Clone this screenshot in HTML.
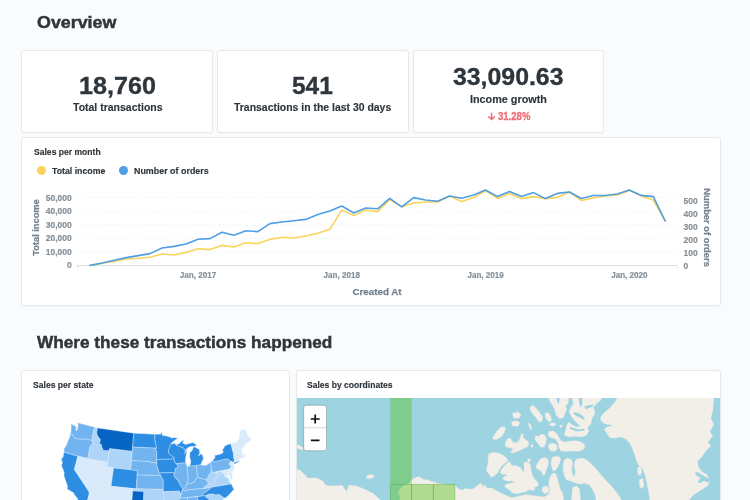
<!DOCTYPE html><html lang="en"><head><meta charset="utf-8"><title>Dashboard</title><style>
html,body{margin:0;padding:0}
body{width:750px;height:500px;overflow:hidden;background:#f9fbfc;position:relative;font-family:"Liberation Sans",sans-serif;}
.card{position:absolute;background:#fff;border:1px solid #e6e9ec;border-radius:3px;box-sizing:border-box;box-shadow:0 0.5px 1.5px rgba(0,0,0,0.03)}
.tx{position:absolute;transform-origin:0 0;white-space:nowrap;line-height:1;margin:0;padding:0;font-family:"Liberation Sans",sans-serif;}
svg{position:absolute;left:0;top:0}
.tick{font:700 8.5px "Liberation Sans",sans-serif;fill:#86919a;stroke:#86919a;stroke-width:0.2px}
.axt{font:700 9.6px "Liberation Sans",sans-serif;fill:#74838f;stroke:#74838f;stroke-width:0.25px}
.dot{position:absolute;width:9px;height:9px;border-radius:50%}
</style></head><body>
<div class="card" style="left:21px;top:50px;width:192px;height:83px"></div>
<div class="card" style="left:217px;top:50px;width:192px;height:83px"></div>
<div class="card" style="left:413px;top:50px;width:191px;height:83px"></div>
<div class="card" style="left:21px;top:137px;width:700px;height:169px"></div>
<div class="card" style="left:21px;top:370px;width:269px;height:140px"></div>
<div class="card" style="left:296px;top:370px;width:425px;height:140px;overflow:hidden"></div>
<div class="dot" style="left:36.5px;top:166.2px;background:#f9d45c"></div>
<div class="dot" style="left:119.2px;top:166.2px;background:#509ee3"></div>
<svg width="750" height="500" viewBox="0 0 750 500">
<line x1="78" x2="677" y1="251.9" y2="251.9" stroke="#eff1f3" stroke-width="0.8" stroke-dasharray="2.2,2.2"/>
<line x1="78" x2="677" y1="238.3" y2="238.3" stroke="#eff1f3" stroke-width="0.8" stroke-dasharray="2.2,2.2"/>
<line x1="78" x2="677" y1="224.8" y2="224.8" stroke="#eff1f3" stroke-width="0.8" stroke-dasharray="2.2,2.2"/>
<line x1="78" x2="677" y1="211.2" y2="211.2" stroke="#eff1f3" stroke-width="0.8" stroke-dasharray="2.2,2.2"/>
<line x1="78" x2="677" y1="197.6" y2="197.6" stroke="#eff1f3" stroke-width="0.8" stroke-dasharray="2.2,2.2"/>
<path d="M77.5 268 V265.5 H677.3 V268" fill="none" stroke="#d7dbde" stroke-width="0.9"/>
<polyline points="90.2,265.4 102.2,263.2 114.2,261.4 126.1,259.0 138.1,258.2 150.1,257.2 162.1,254.0 174.1,255.0 186.0,252.4 198.0,248.8 210.0,249.6 222.0,245.4 234.0,247.0 245.9,242.8 257.9,243.6 269.9,239.4 281.9,237.2 293.9,238.0 305.8,236.0 317.8,233.2 329.8,229.3 341.8,210.1 353.8,215.6 365.7,210.0 377.7,211.6 389.7,199.6 401.7,206.8 413.7,203.0 425.6,202.0 437.6,202.0 449.6,196.0 461.6,201.5 473.6,197.5 485.5,190.7 497.5,198.4 509.5,193.4 521.5,198.6 533.5,196.6 545.4,198.6 557.4,197.4 569.4,192.0 581.4,200.5 593.4,198.0 605.3,196.0 617.3,195.0 629.3,190.4 641.3,196.0 653.3,200.0 665.2,221.0" fill="none" stroke="#f9d45c" stroke-width="1.6" stroke-linejoin="round" stroke-linecap="round"/>
<polyline points="90.2,265.4 102.2,263.0 114.2,260.2 126.1,257.6 138.1,255.6 150.1,253.6 162.1,248.0 174.1,246.4 186.0,244.0 198.0,239.2 210.0,238.6 222.0,232.2 234.0,235.2 245.9,230.8 257.9,231.6 269.9,223.6 281.9,222.0 293.9,220.8 305.8,219.4 317.8,214.6 329.8,210.9 341.8,206.0 353.8,213.0 365.7,208.0 377.7,208.8 389.7,198.4 401.7,206.8 413.7,197.6 425.6,200.0 437.6,201.2 449.6,196.0 461.6,198.2 473.6,195.1 485.5,190.0 497.5,196.6 509.5,191.4 521.5,196.4 533.5,192.6 545.4,198.6 557.4,193.4 569.4,192.0 581.4,198.5 593.4,195.5 605.3,195.5 617.3,194.0 629.3,190.0 641.3,195.4 653.3,196.6 665.2,221.0" fill="none" stroke="#509ee3" stroke-width="1.6" stroke-linejoin="round" stroke-linecap="round"/>
<text x="71.7" y="267.9" text-anchor="end" class="tick">0</text>
<text x="71.7" y="254.5" text-anchor="end" class="tick">10,000</text>
<text x="71.7" y="241.1" text-anchor="end" class="tick">20,000</text>
<text x="71.7" y="227.7" text-anchor="end" class="tick">30,000</text>
<text x="71.7" y="214.3" text-anchor="end" class="tick">40,000</text>
<text x="71.7" y="200.9" text-anchor="end" class="tick">50,000</text>
<text x="683.5" y="268.9" class="tick">0</text>
<text x="683.5" y="255.9" class="tick">100</text>
<text x="683.5" y="242.9" class="tick">200</text>
<text x="683.5" y="229.9" class="tick">300</text>
<text x="683.5" y="216.9" class="tick">400</text>
<text x="683.5" y="203.9" class="tick">500</text>
<text x="198" y="278.1" text-anchor="middle" class="tick" textLength="36.4" lengthAdjust="spacingAndGlyphs">Jan, 2017</text>
<text x="341.8" y="278.1" text-anchor="middle" class="tick" textLength="36.4" lengthAdjust="spacingAndGlyphs">Jan, 2018</text>
<text x="485.6" y="278.1" text-anchor="middle" class="tick" textLength="36.4" lengthAdjust="spacingAndGlyphs">Jan, 2019</text>
<text x="629.4" y="278.1" text-anchor="middle" class="tick" textLength="36.4" lengthAdjust="spacingAndGlyphs">Jan, 2020</text>
<text x="377" y="294.8" text-anchor="middle" class="axt" textLength="49.2" lengthAdjust="spacingAndGlyphs">Created At</text>
<text transform="translate(38.6,227.5) rotate(-90)" text-anchor="middle" class="axt" textLength="56.5" lengthAdjust="spacingAndGlyphs">Total income</text>
<text transform="translate(704.0,227.6) rotate(90)" text-anchor="middle" class="axt" textLength="78.5" lengthAdjust="spacingAndGlyphs">Number of orders</text>
<path d="M491.6 113.2 V119.4 M488.8 116.7 L491.6 119.6 L494.4 116.7" fill="none" stroke="#ee6e76" stroke-width="1.5" stroke-linecap="round" stroke-linejoin="round"/>
<g stroke="#dcebfa" stroke-width="0.4" stroke-linejoin="round">
<path d="M70.4 433.7 L71.1 430.9 L71.1 427.5 L71.3 423.9 L75.1 426.1 L76.3 426.9 L75.8 429.9 L76.9 430.7 L78.0 427.2 L78.0 424.4 L77.7 422.8 L94.7 427.2 L92.1 438.6 L92.0 440.6 L85.6 439.1 L84.6 439.2 L80.6 439.3 L78.3 439.1 L74.8 438.4 L73.7 436.6 L72.8 435.0 L70.4 433.7Z" fill="#72b4f0"/>
<path d="M70.4 433.7 L72.8 435.0 L73.7 436.6 L74.8 438.4 L78.3 439.1 L80.6 439.3 L84.6 439.2 L85.6 439.1 L92.0 440.6 L92.0 440.6 L92.9 443.2 L91.2 445.6 L89.5 447.6 L89.5 450.4 L87.7 458.5 L77.9 456.2 L63.9 452.2 L64.2 448.2 L66.2 445.7 L68.0 440.9 L69.7 437.1Z" fill="#72b4f0"/>
<path d="M63.9 452.2 L77.9 456.2 L74.4 469.6 L89.3 492.0 L88.8 495.7 L86.9 502.3 L77.7 501.2 L77.6 498.5 L74.2 494.6 L74.1 493.3 L71.5 491.6 L67.1 489.0 L67.6 486.3 L64.9 478.6 L63.9 475.4 L64.3 472.7 L63.3 469.9 L61.6 466.1 L62.4 462.4 L61.4 459.0 L63.2 456.8Z" fill="#2e8ee3"/>
<path d="M77.9 456.2 L97.6 460.6 L92.5 487.0 L89.8 486.9 L89.3 492.0 L74.4 469.6Z" fill="#d9eafb"/>
<path d="M94.7 427.2 L97.6 427.9 L96.7 432.3 L97.2 435.0 L99.6 438.7 L100.6 439.4 L99.2 444.3 L101.1 443.9 L102.0 447.6 L103.5 450.4 L107.9 450.5 L109.4 451.0 L107.5 462.4 L87.7 458.5 L87.7 458.5 L89.5 450.4 L89.5 447.6 L91.2 445.6 L92.9 443.2 L92.0 440.6 L92.1 438.6Z" fill="#aed4f7"/>
<path d="M97.6 427.9 L133.8 433.2 L132.2 451.4 L109.7 448.7 L109.4 451.0 L107.9 450.5 L103.5 450.4 L102.0 447.6 L101.1 443.9 L99.2 444.3 L100.6 439.4 L99.6 438.7 L97.2 435.0 L96.7 432.3 L97.6 427.9Z" fill="#0665c2"/>
<path d="M109.7 448.7 L132.2 451.4 L130.7 469.8 L106.8 466.9Z" fill="#aed4f7"/>
<path d="M97.6 460.6 L107.5 462.4 L106.8 466.9 L113.6 467.9 L111.1 486.3 L93.2 483.3Z" fill="#d9eafb"/>
<path d="M113.6 467.9 L137.5 470.4 L136.3 488.8 L111.1 486.3Z" fill="#2e8ee3"/>
<path d="M93.2 483.3 L111.1 486.3 L107.5 512.3 L99.7 511.1 L86.4 503.2 L86.9 502.3 L88.8 495.7 L89.3 492.0 L89.8 486.9 L92.5 487.0Z" fill="#d9eafb"/>
<path d="M111.1 486.3 L132.9 488.6 L131.2 511.7 L117.3 510.4 L117.4 511.4 L111.0 510.7 L110.8 512.7 L107.5 512.3Z" fill="#d9eafb"/>
<path d="M133.8 433.2 L154.5 434.3 L154.9 438.8 L155.6 443.4 L156.4 446.6 L156.5 448.2 L132.6 447.1Z" fill="#2e8ee3"/>
<path d="M132.6 447.1 L156.5 448.2 L155.6 449.8 L156.8 451.2 L156.8 459.5 L156.3 461.8 L156.8 464.1 L155.9 463.6 L154.0 462.4 L151.6 462.8 L150.0 461.7 L131.5 460.6Z" fill="#72b4f0"/>
<path d="M131.5 460.6 L150.0 461.7 L151.6 462.8 L154.0 462.4 L155.9 463.6 L156.8 464.1 L157.3 466.8 L158.0 468.7 L158.6 471.0 L159.0 472.9 L160.7 475.6 L137.2 475.0 L137.5 470.4 L130.7 469.8Z" fill="#72b4f0"/>
<path d="M137.2 475.0 L160.7 475.6 L162.2 478.4 L163.2 479.8 L163.3 489.5 L136.3 488.8Z" fill="#72b4f0"/>
<path d="M132.9 488.6 L163.3 489.5 L163.3 491.8 L164.1 496.9 L164.1 505.1 L160.2 503.9 L156.0 504.1 L153.8 504.6 L150.4 502.9 L146.3 501.8 L143.3 500.5 L143.7 491.6 L132.7 490.9Z" fill="#aed4f7"/>
<path d="M132.7 490.9 L143.7 491.6 L143.3 500.5 L146.3 501.8 L150.4 502.9 L153.8 504.6 L156.0 504.1 L160.2 503.9 L164.1 505.1 L165.7 505.4 L165.9 512.6 L166.9 523.2 L160.7 526.9 L154.2 531.9 L153.3 540.6 L145.5 538.1 L142.0 530.7 L136.8 522.7 L132.4 521.9 L129.4 525.4 L124.5 521.3 L117.3 510.4 L131.2 511.7Z" fill="#0665c2"/>
<path d="M156.5 448.2 L156.4 446.6 L155.6 443.4 L154.9 438.8 L154.5 434.3 L160.9 434.3 L160.9 432.5 L161.9 432.9 L162.6 435.6 L166.3 436.0 L169.1 436.8 L172.2 438.0 L174.3 437.5 L178.1 438.2 L175.4 439.7 L172.4 442.1 L170.6 444.3 L170.0 444.8 L170.1 447.3 L168.4 449.6 L168.9 453.5 L170.7 455.1 L173.8 457.2 L174.1 459.1 L156.8 459.5 L156.8 459.5 L156.8 451.2 L155.6 449.8 L156.5 448.2Z" fill="#2e8ee3"/>
<path d="M156.8 459.5 L174.1 459.1 L174.9 462.7 L176.3 463.6 L178.1 465.8 L177.5 467.7 L175.2 468.7 L175.2 471.5 L174.2 473.5 L173.2 472.5 L159.1 473.0 L159.0 472.9 L158.6 471.0 L158.0 468.7 L157.3 466.8 L156.8 464.1Z" fill="#2e8ee3"/>
<path d="M159.1 473.0 L173.2 472.5 L174.2 473.5 L174.0 475.7 L177.0 479.8 L179.0 480.6 L178.9 482.4 L181.8 487.4 L183.1 488.6 L182.0 491.1 L181.5 493.4 L179.0 493.6 L179.7 491.2 L163.3 491.8 L163.3 489.5 L163.2 479.8 L162.2 478.4 L160.7 475.6 L159.0 472.9Z" fill="#2e8ee3"/>
<path d="M163.3 491.8 L179.7 491.2 L179.0 493.6 L181.5 493.4 L180.3 497.7 L179.5 498.2 L178.6 500.5 L176.9 504.3 L176.7 507.6 L165.8 507.9 L165.7 505.4 L164.1 505.1 L164.1 496.9Z" fill="#aed4f7"/>
<path d="M170.6 444.3 L174.0 443.4 L174.8 443.2 L176.0 444.9 L180.3 446.7 L183.6 447.8 L184.7 449.8 L185.5 450.9 L184.4 453.5 L186.2 451.8 L187.5 449.8 L186.1 454.5 L185.7 457.3 L185.3 460.6 L185.8 462.9 L176.3 463.6 L174.9 462.7 L174.1 459.1 L174.1 459.1 L173.8 457.2 L170.7 455.1 L168.9 453.5 L168.4 449.6 L170.1 447.3 L170.0 444.8Z" fill="#2e8ee3"/>
<path d="M176.3 463.6 L185.8 462.9 L187.1 466.5 L188.1 477.6 L188.1 480.3 L187.1 483.7 L186.8 484.6 L186.8 484.6 L185.5 488.0 L183.1 488.6 L183.1 488.6 L181.8 487.4 L178.9 482.4 L179.0 480.6 L177.0 479.8 L174.0 475.7 L174.2 473.5 L174.2 473.5 L175.2 471.5 L175.2 468.7 L177.5 467.7 L178.1 465.8 L176.3 463.6Z" fill="#72b4f0"/>
<path d="M187.1 466.5 L189.5 466.0 L196.3 465.5 L197.7 477.5 L195.8 479.3 L194.8 481.6 L192.9 482.7 L190.5 483.8 L188.7 483.8 L186.8 484.6 L187.1 483.7 L188.1 480.3 L188.1 477.6Z" fill="#72b4f0"/>
<path d="M189.5 466.0 L196.3 465.5 L200.8 464.8 L201.7 462.1 L203.5 458.5 L202.3 454.5 L200.9 454.0 L198.2 456.2 L199.8 453.0 L199.3 449.6 L196.5 447.9 L194.3 446.8 L193.2 447.6 L192.1 450.7 L190.0 452.3 L189.6 457.0 L190.9 461.0 L190.4 464.3Z" fill="#2e8ee3"/>
<path d="M176.0 444.9 L180.3 446.7 L183.6 447.8 L184.7 449.8 L185.5 450.9 L186.8 448.5 L188.4 447.4 L190.5 446.5 L194.0 446.3 L196.5 445.8 L196.1 444.7 L194.7 443.7 L193.0 442.5 L189.3 443.6 L185.5 444.4 L182.5 442.9 L183.9 440.2 L182.0 440.8 L179.7 443.3Z" fill="#2e8ee3"/>
<path d="M196.3 465.5 L200.8 464.8 L203.5 465.5 L206.9 465.0 L210.5 462.2 L211.5 468.3 L211.3 469.5 L211.1 472.8 L209.2 474.5 L208.5 476.5 L207.2 478.6 L205.9 479.6 L205.9 479.6 L203.3 479.1 L201.1 478.7 L198.8 477.4 L197.7 477.5Z" fill="#72b4f0"/>
<path d="M197.7 477.5 L198.8 477.4 L201.1 478.7 L203.3 479.1 L205.9 479.6 L208.7 483.3 L203.1 488.5 L187.2 489.8 L187.3 490.7 L182.0 491.1 L182.0 491.1 L183.1 488.6 L185.5 488.0 L186.8 484.6 L188.7 483.8 L190.5 483.8 L192.9 482.7 L194.8 481.6 L195.8 479.3 L197.7 477.5Z" fill="#72b4f0"/>
<path d="M182.0 491.1 L187.3 490.7 L187.2 489.8 L203.1 488.5 L210.4 487.5 L210.5 488.6 L207.4 490.7 L204.4 493.1 L202.6 494.6 L201.7 496.1 L179.5 498.2 L179.5 498.2 L180.3 497.7 L181.5 493.4 L181.5 493.4 L182.0 491.1Z" fill="#72b4f0"/>
<path d="M211.5 468.3 L211.3 469.5 L211.1 472.8 L209.2 474.5 L208.5 476.5 L207.2 478.6 L205.9 479.6 L208.7 483.3 L209.9 484.7 L211.5 484.3 L212.6 483.6 L214.6 482.3 L216.1 477.4 L217.4 477.6 L218.7 475.7 L220.3 474.5 L222.2 472.6 L220.2 471.2 L218.2 472.1 L216.2 474.3 L215.8 471.9 L212.2 472.5Z" fill="#aed4f7"/>
<path d="M203.1 488.5 L208.7 483.3 L209.9 484.7 L211.5 484.3 L212.6 483.6 L214.6 482.3 L216.1 477.4 L217.4 477.6 L218.7 475.7 L220.3 474.5 L222.2 472.6 L223.2 473.5 L225.0 474.5 L224.5 476.5 L226.0 476.9 L228.4 477.9 L229.3 482.2 L230.5 482.4 L231.3 483.9 L210.4 487.5Z" fill="#aed4f7"/>
<path d="M230.7 477.4 L232.0 476.7 L230.4 481.2 L230.1 480.6Z" fill="#aed4f7"/>
<path d="M201.7 496.1 L202.6 494.6 L204.4 493.1 L207.4 490.7 L210.5 488.6 L210.4 487.5 L231.3 483.9 L233.9 489.5 L230.8 492.7 L226.3 497.4 L224.0 498.1 L219.0 494.5 L214.9 495.2 L213.8 494.2 L209.1 494.2 L206.2 495.6 L201.7 496.1Z" fill="#2e8ee3"/>
<path d="M206.2 495.6 L209.1 494.2 L213.8 494.2 L214.9 495.2 L219.0 494.5 L224.0 498.1 L222.1 501.5 L219.8 504.2 L216.7 507.8 L213.6 503.8 L210.4 501.0 L207.3 498.0 L205.5 497.1 L206.2 495.6Z" fill="#aed4f7"/>
<path d="M197.0 496.7 L206.2 495.6 L205.5 497.1 L207.3 498.0 L210.4 501.0 L213.6 503.8 L216.7 507.8 L215.6 514.3 L213.2 516.0 L212.5 515.4 L202.1 516.1 L201.4 514.8 L200.4 510.3 L199.6 506.4Z" fill="#2e8ee3"/>
<path d="M187.3 497.6 L197.0 496.7 L199.6 506.4 L200.4 510.3 L201.4 514.8 L191.2 515.8 L191.9 519.0 L188.4 519.8 L187.6 512.0Z" fill="#72b4f0"/>
<path d="M179.5 498.2 L187.3 497.6 L187.6 512.0 L188.4 519.8 L183.6 520.1 L182.6 516.5 L175.6 516.9 L176.7 507.6 L176.9 504.3 L178.6 500.5 L179.5 498.2Z" fill="#72b4f0"/>
<path d="M165.8 507.9 L176.7 507.6 L175.6 516.9 L182.6 516.5 L183.6 520.1 L186.3 524.5 L178.3 525.0 L166.9 523.2 L165.9 512.6Z" fill="#72b4f0"/>
<path d="M191.2 515.8 L201.4 514.8 L202.1 516.1 L212.5 515.4 L213.2 516.0 L215.6 514.3 L224.0 531.0 L223.6 538.4 L217.2 535.8 L211.9 528.2 L211.6 522.7 L205.8 518.4 L200.5 520.9 L191.9 519.0Z" fill="#72b4f0"/>
<path d="M210.5 462.2 L212.8 460.5 L213.0 461.7 L227.7 458.8 L230.5 461.3 L229.6 463.4 L229.5 464.8 L231.5 466.5 L229.7 468.8 L228.5 469.4 L212.2 472.5Z" fill="#72b4f0"/>
<path d="M213.0 461.7 L212.8 460.5 L215.2 457.3 L214.4 455.6 L219.4 454.4 L221.9 453.4 L223.4 452.2 L222.4 450.0 L225.0 445.9 L226.6 444.9 L231.0 443.8 L232.5 450.1 L233.7 453.9 L233.7 457.2 L234.4 460.6 L234.4 462.0 L233.5 462.2 L230.5 461.3 L227.7 458.8Z" fill="#2e8ee3"/>
<path d="M233.6 464.1 L234.3 462.5 L238.2 461.1 L240.1 460.3 L238.4 462.0 L235.3 463.7Z" fill="#2e8ee3"/>
<path d="M230.5 461.3 L233.5 462.2 L233.2 464.0 L232.9 464.8 L233.8 464.8 L234.2 468.0 L233.5 469.8 L232.1 472.4 L231.0 471.1 L229.5 470.3 L229.7 468.8 L231.5 466.5 L229.5 464.8 L229.6 463.4 L230.5 461.3Z" fill="#d9eafb"/>
<path d="M228.5 469.4 L229.7 468.8 L229.5 470.3 L230.7 472.4 L231.8 473.1 L232.3 474.6 L230.0 475.1Z" fill="#d9eafb"/>
<path d="M215.8 471.9 L228.5 469.4 L230.0 475.1 L232.3 474.6 L232.2 476.7 L230.7 477.4 L229.6 476.4 L228.0 474.4 L227.8 471.6 L226.9 472.3 L227.2 475.5 L228.4 477.9 L226.0 476.9 L224.5 476.5 L225.0 474.5 L223.2 473.5 L222.2 472.6 L220.2 471.2 L218.2 472.1 L216.2 474.3Z" fill="#d9eafb"/>
<path d="M231.0 443.8 L236.8 442.4 L237.1 444.7 L236.1 446.8 L235.9 449.3 L236.4 453.3 L233.7 453.9 L232.5 450.1Z" fill="#d9eafb"/>
<path d="M236.8 442.4 L237.1 440.9 L237.8 440.7 L240.2 448.2 L241.7 450.3 L241.6 451.2 L240.2 452.5 L236.4 453.3 L235.9 449.3 L236.1 446.8 L237.1 444.7 L236.8 442.4Z" fill="#d9eafb"/>
<path d="M237.8 440.7 L238.6 440.0 L239.5 437.4 L239.6 435.0 L240.8 429.6 L242.1 430.4 L243.7 429.3 L245.6 430.0 L247.3 435.6 L248.6 436.1 L249.4 438.1 L251.3 439.2 L249.7 441.1 L247.7 442.6 L246.0 442.7 L245.6 444.7 L243.7 446.5 L242.4 447.3 L241.7 450.3 L240.2 448.2Z" fill="#d9eafb"/>
<path d="M233.7 453.9 L236.4 453.3 L240.2 452.5 L241.6 451.2 L242.4 452.2 L241.6 453.8 L242.7 454.2 L243.4 455.2 L243.9 455.9 L245.5 455.3 L245.3 454.4 L244.5 454.3 L245.6 454.8 L245.8 455.8 L243.9 457.0 L242.3 457.6 L242.0 456.9 L240.7 455.6 L239.4 455.9 L233.7 457.2Z" fill="#d9eafb"/>
<path d="M239.4 455.9 L240.7 455.6 L242.0 456.9 L242.3 457.6 L240.0 459.1Z" fill="#d9eafb"/>
<path d="M233.7 457.2 L239.4 455.9 L240.0 459.1 L236.6 460.3 L234.4 462.0 L234.4 460.6Z" fill="#d9eafb"/>
</g>
<defs><clipPath id="mapclip"><rect x="297" y="398" width="423" height="102"/></clipPath></defs>
<g clip-path="url(#mapclip)">
<rect x="296" y="397" width="425" height="104" fill="#9ed4e1"/>
<path d="M295.2 468.9 L300.0 470.0 L303.2 473.2 L308.0 478.0 L316.8 478.0 L323.2 481.2 L325.6 485.2 L332.8 486.0 L342.4 485.2 L344.0 487.9 L346.4 491.6 L348.0 487.9 L348.8 485.2 L356.8 486.0 L364.8 489.2 L372.8 493.2 L379.2 498.8 L382.4 502.0 L295.2 502.0Z M295.2 444.9 L299.2 445.2 L303.2 447.6 L302.4 450.0 L299.2 448.9 L295.2 447.6Z M366.1 477.4 L367.5 475.4 L370.4 474.5 L373.6 475.1 L374.4 476.4 L372.5 478.0 L368.8 478.8 L366.7 478.5Z M399.2 501.0 L400.4 496.5 L398.0 493.2 L399.8 489.0 L404.0 485.6 L407.6 484.2 L411.8 479.6 L416.0 477.6 L419.0 476.4 L421.4 478.2 L425.0 480.0 L428.0 479.5 L430.4 481.2 L434.0 481.8 L437.6 483.6 L444.8 484.2 L455.0 484.9 L458.0 488.4 L461.6 490.2 L465.2 488.4 L468.2 489.0 L472.0 489.2 L476.0 486.8 L480.8 482.8 L482.8 486.4 L485.2 485.1 L486.8 488.0 L491.6 488.0 L497.2 491.2 L502.0 493.6 L506.0 495.2 L510.8 497.6 L516.4 496.8 L522.8 495.2 L526.0 494.4 L530.8 495.2 L537.2 496.0 L542.0 496.8 L544.7 496.7 L548.7 494.0 L550.0 490.0 L548.7 484.7 L549.3 479.3 L550.9 475.3 L553.3 472.7 L556.0 474.0 L557.6 478.7 L558.7 483.3 L560.0 488.7 L562.7 492.7 L564.0 502.0 L399.0 504.0Z M572.7 487.3 L576.7 486.0 L579.3 488.7 L580.0 494.0 L580.7 502.0 L571.3 502.0 L572.0 494.0Z M542.7 486.7 L546.7 486.0 L549.3 488.7 L548.0 492.7 L544.7 494.0 L542.0 490.7Z M488.8 453.7 L493.5 452.2 L499.2 453.2 L503.9 455.8 L507.6 459.4 L508.1 461.0 L505.0 463.1 L502.4 465.2 L500.3 467.8 L498.7 470.9 L496.6 474.0 L493.5 476.6 L490.9 477.1 L488.8 474.0 L486.2 470.4 L487.3 465.7 L488.3 460.5 L488.3 456.3Z M509.6 461.5 L511.2 464.6 L513.3 465.7 L515.9 465.2 L518.0 466.7 L520.0 467.2 L522.6 470.4 L523.9 472.8 L524.1 467.8 L523.7 463.6 L525.8 461.8 L528.9 462.6 L530.8 465.7 L531.0 468.8 L532.0 474.0 L534.1 478.2 L536.7 481.3 L538.8 483.9 L537.2 486.5 L534.1 487.5 L535.1 489.6 L532.0 490.6 L528.9 489.6 L525.8 491.7 L521.6 492.7 L516.4 493.8 L512.2 492.7 L509.1 489.6 L506.0 488.0 L504.4 485.4 L507.0 483.9 L511.2 483.0 L514.8 481.8 L511.2 480.8 L507.0 481.3 L503.9 479.7 L502.4 478.2 L504.4 476.3 L507.6 475.5 L505.0 474.2 L502.4 474.5 L500.3 472.4 L501.3 469.8 L503.4 466.7 L506.0 464.1Z M527.6 459.2 L529.7 458.8 L530.8 460.5 L529.5 461.9 L527.8 461.5Z M536.7 464.7 L540.0 459.3 L544.7 457.3 L548.0 459.3 L548.7 464.0 L546.7 468.7 L544.7 474.7 L542.7 475.3 L541.3 471.3 L538.7 470.0 L535.7 467.3Z M552.0 457.3 L556.0 456.0 L560.0 457.3 L560.7 460.7 L558.7 465.3 L556.0 470.0 L553.3 471.3 L551.7 467.3 L550.9 462.7Z M564.0 460.0 L567.3 458.0 L571.3 459.3 L572.7 463.3 L571.7 468.7 L572.7 474.7 L574.7 476.7 L575.3 471.3 L574.0 466.0 L574.7 461.3 L577.3 458.7 L582.7 458.0 L586.7 460.0 L590.7 463.3 L594.7 467.3 L598.7 472.0 L602.7 476.7 L606.7 481.3 L610.7 485.3 L614.7 490.0 L618.7 495.3 L622.0 500.7 L622.0 502.7 L596.7 502.7 L594.7 494.0 L592.0 488.7 L589.3 484.9 L585.3 483.3 L580.0 484.0 L576.0 483.3 L571.3 481.3 L566.7 480.0 L564.7 476.7 L563.3 471.3 L562.9 466.0Z M492.5 438.0 L494.6 434.4 L497.2 430.8 L500.3 427.6 L503.9 426.6 L505.5 428.2 L504.4 432.3 L502.4 435.4 L499.8 438.0 L496.6 439.6 L493.5 439.6Z M512.4 413.2 L518.0 412.1 L521.2 414.8 L518.8 418.5 L513.5 418.0Z M511.3 422.0 L516.4 420.4 L519.9 422.8 L518.0 426.5 L512.4 426.0Z M505.0 444.3 L506.5 439.6 L509.6 437.5 L511.2 439.6 L512.8 442.2 L515.9 442.9 L519.0 440.8 L520.6 436.5 L521.6 433.2 L523.2 433.9 L523.4 438.0 L525.8 439.6 L528.4 441.7 L528.9 444.3 L527.3 446.9 L524.7 447.9 L521.6 449.5 L518.5 451.0 L514.8 452.6 L511.7 453.1 L510.7 451.6 L513.3 449.5 L511.2 447.9 L508.1 447.4 L506.0 446.9Z M528.1 423.6 L530.0 423.3 L532.1 428.7 L530.5 429.5Z M530.8 444.7 L532.7 444.4 L533.0 447.0 L531.1 447.3Z M535.6 435.6 L538.8 436.4 L541.2 434.0 L544.4 434.8 L546.5 438.0 L546.0 442.8 L544.4 446.8 L541.2 447.6 L538.8 444.4 L536.4 442.0 L534.8 438.8Z M530.0 406.8 L533.2 405.2 L536.4 408.4 L539.6 412.4 L542.8 417.2 L542.0 421.2 L538.8 422.0 L536.4 418.0 L533.2 414.8 L530.5 410.8Z M545.2 413.2 L548.4 412.4 L550.8 416.4 L551.6 420.4 L549.2 422.0 L546.8 419.6 L544.9 416.4Z M550.0 423.3 L554.8 422.8 L555.9 424.9 L552.4 426.2 L549.7 425.2Z M559.6 425.2 L562.0 424.9 L562.5 427.1 L560.1 427.4Z M548.0 396.9 L550.1 402.0 L552.7 405.4 L554.7 410.1 L556.1 415.4 L560.1 418.8 L563.5 417.4 L564.8 413.4 L566.8 410.1 L565.5 406.0 L568.2 403.4 L568.8 396.9Z M571.5 396.9 L573.5 403.4 L570.8 407.4 L568.8 411.4 L570.8 415.4 L573.5 419.4 L576.9 422.8 L580.2 426.2 L576.2 426.8 L572.2 424.8 L568.8 422.1 L566.8 424.8 L565.5 430.8 L564.1 434.9 L568.8 436.9 L574.9 436.2 L581.6 436.9 L586.2 435.5 L588.9 431.5 L587.6 427.5 L590.9 423.5 L592.5 417.2 L595.0 414.0 L594.6 410.7 L593.4 407.7 L595.0 405.2 L597.4 402.8 L600.6 400.4 L602.5 396.9Z M548.7 431.5 L553.4 430.8 L556.8 433.5 L558.8 436.9 L560.8 440.6 L564.1 442.0 L569.5 441.2 L574.9 440.6 L580.2 441.6 L584.2 444.2 L584.9 447.6 L582.2 450.3 L577.5 451.6 L570.8 450.9 L565.5 451.6 L560.8 450.9 L558.8 447.6 L558.1 443.6 L556.1 439.6 L552.7 438.2 L549.4 436.9 L547.8 434.2Z M548.7 444.2 L552.7 442.9 L556.8 444.9 L557.4 448.9 L554.7 451.4 L550.7 450.9 L548.7 448.3Z M617.5 396.9 L615.1 402.0 L609.7 408.1 L604.3 412.7 L601.0 416.1 L600.3 419.4 L603.0 422.8 L607.0 424.5 L613.1 425.2 L607.0 427.0 L604.3 429.5 L607.0 433.5 L609.7 437.5 L614.4 438.2 L620.4 436.9 L625.8 438.9 L629.8 443.6 L632.5 448.9 L634.5 454.3 L636.5 461.0 L638.5 465.0 L638.8 465.3 L642.9 469.4 L645.5 476.6 L646.9 483.7 L648.6 491.9 L650.0 503.1 L686.3 503.1 L693.5 494.9 L701.6 489.8 L707.8 485.8 L709.8 479.6 L706.7 474.5 L701.6 471.5 L698.6 467.4 L697.6 461.3 L701.6 457.2 L705.7 451.1 L710.8 446.0 L707.8 441.9 L712.9 435.8 L709.8 431.7 L713.9 424.5 L710.8 418.4 L712.9 410.2 L713.9 396.4Z M637.3 467.4 L640.4 466.4 L642.0 471.5 L640.4 475.6 L638.0 474.5Z M639.4 479.6 L642.9 478.6 L644.1 485.8 L641.4 488.8 L639.4 485.8Z" fill="#f2efe9" stroke="#e6dfe0" stroke-width="0.3"/>
<path d="M556.4 396.9 L560.1 396.9 L559.0 403.4 L557.0 402.3Z M578.6 396.9 L581.8 396.9 L582.6 403.4 L580.9 407.7 L579.3 404.0Z M584.2 406.3 L592.9 404.4 L593.6 406.3 L585.6 409.3Z M574.2 412.1 L580.2 414.1 L584.9 418.1 L583.6 419.4 L578.2 416.8 L573.5 414.1Z M570.2 426.8 L578.2 429.5 L584.2 428.8 L584.5 430.6 L577.5 431.5 L569.8 429.1Z M710.4 479.2 L704.7 476.6 L698.6 472.5 L695.1 471.9 L695.9 475.1 L700.6 478.0 L697.6 481.7 L700.0 483.3 L704.1 480.7 L707.8 482.7Z M702.7 457.6 L705.1 459.2 L710.8 456.2 L710.4 453.5 L706.3 455.6Z" fill="#9ed4e1"/>
<rect x="390.3" y="390" width="21.4" height="94.3" fill="rgba(85,191,20,0.41)"/>
<rect x="390.3" y="484.3" width="21.4" height="35.7" fill="rgba(85,191,20,0.41)" stroke="rgba(60,165,25,0.45)" stroke-width="0.7"/>
<rect x="411.7" y="484.3" width="21.6" height="35.7" fill="rgba(85,191,20,0.41)" stroke="rgba(60,165,25,0.45)" stroke-width="0.7"/>
<rect x="433.3" y="484.3" width="21.6" height="35.7" fill="rgba(85,191,20,0.41)" stroke="rgba(60,165,25,0.45)" stroke-width="0.7"/>
<rect x="303.7" y="405.3" width="22.8" height="45.4" rx="2.5" fill="#fff" stroke="rgba(0,0,0,0.22)" stroke-width="1"/>
<line x1="304.2" x2="326" y1="427.8" y2="427.8" stroke="#ccc" stroke-width="0.8"/>
<path d="M310.7 419 H319.7 M315.2 414.5 V423.5 M310.9 440.3 H319.5" stroke="#111" stroke-width="1.7" fill="none"/>
</g>
</svg>
<div id="t_over" class="tx" style="left:37.3px;top:14.19px;font-size:16.2px;color:#2e353b;font-weight:700;transform:scaleX(1.1028);-webkit-text-stroke:0.45px #2e353b">Overview</div>
<div id="t_v1" class="tx" style="left:79.3px;top:74.28px;font-size:24px;color:#2e353b;font-weight:700;transform:scaleX(1.0476);-webkit-text-stroke:0.35px #2e353b">18,760</div>
<div id="t_l1" class="tx" style="left:72.8px;top:101.71px;font-size:10.5px;color:#2e353b;font-weight:700;transform:scaleX(0.9994);-webkit-text-stroke:0.15px #2e353b">Total transactions</div>
<div id="t_v2" class="tx" style="left:292.2px;top:74.28px;font-size:24px;color:#2e353b;font-weight:700;transform:scaleX(1.0188);-webkit-text-stroke:0.35px #2e353b">541</div>
<div id="t_l2" class="tx" style="left:234.1px;top:101.71px;font-size:10.5px;color:#2e353b;font-weight:700;transform:scaleX(0.9940);-webkit-text-stroke:0.15px #2e353b">Transactions in the last 30 days</div>
<div id="t_v3" class="tx" style="left:453.1px;top:65.48px;font-size:24px;color:#2e353b;font-weight:700;transform:scaleX(1.0348);-webkit-text-stroke:0.35px #2e353b">33,090.63</div>
<div id="t_l3" class="tx" style="left:469.9px;top:93.71px;font-size:10.5px;color:#2e353b;font-weight:700;transform:scaleX(1.0298);-webkit-text-stroke:0.15px #2e353b">Income growth</div>
<div id="t_pct" class="tx" style="left:498.0px;top:111.53px;font-size:10px;color:#ee6e76;font-weight:700;transform:scaleX(0.9551);-webkit-text-stroke:0.3px #ee6e76">31.28%</div>
<div id="t_spm" class="tx" style="left:34.3px;top:148.08px;font-size:9px;color:#2e353b;font-weight:700;transform:scaleX(0.9524);-webkit-text-stroke:0.15px #2e353b">Sales per month</div>
<div id="t_lg1" class="tx" style="left:51.7px;top:167.21px;font-size:9.2px;color:#2e353b;font-weight:700;transform:scaleX(0.9521);-webkit-text-stroke:0.15px #2e353b">Total income</div>
<div id="t_lg2" class="tx" style="left:134.3px;top:167.21px;font-size:9.2px;color:#2e353b;font-weight:700;transform:scaleX(0.9690);-webkit-text-stroke:0.15px #2e353b">Number of orders</div>
<div id="t_where" class="tx" style="left:36.9px;top:334.95px;font-size:16.6px;color:#2e353b;font-weight:700;transform:scaleX(1.0364);-webkit-text-stroke:0.45px #2e353b">Where these transactions happened</div>
<div id="t_sps" class="tx" style="left:33.3px;top:381.08px;font-size:9px;color:#2e353b;font-weight:700;transform:scaleX(0.9536);-webkit-text-stroke:0.15px #2e353b">Sales per state</div>
<div id="t_sbc" class="tx" style="left:307.3px;top:381.08px;font-size:9px;color:#2e353b;font-weight:700;transform:scaleX(0.9495);-webkit-text-stroke:0.15px #2e353b">Sales by coordinates</div>
</body></html>
